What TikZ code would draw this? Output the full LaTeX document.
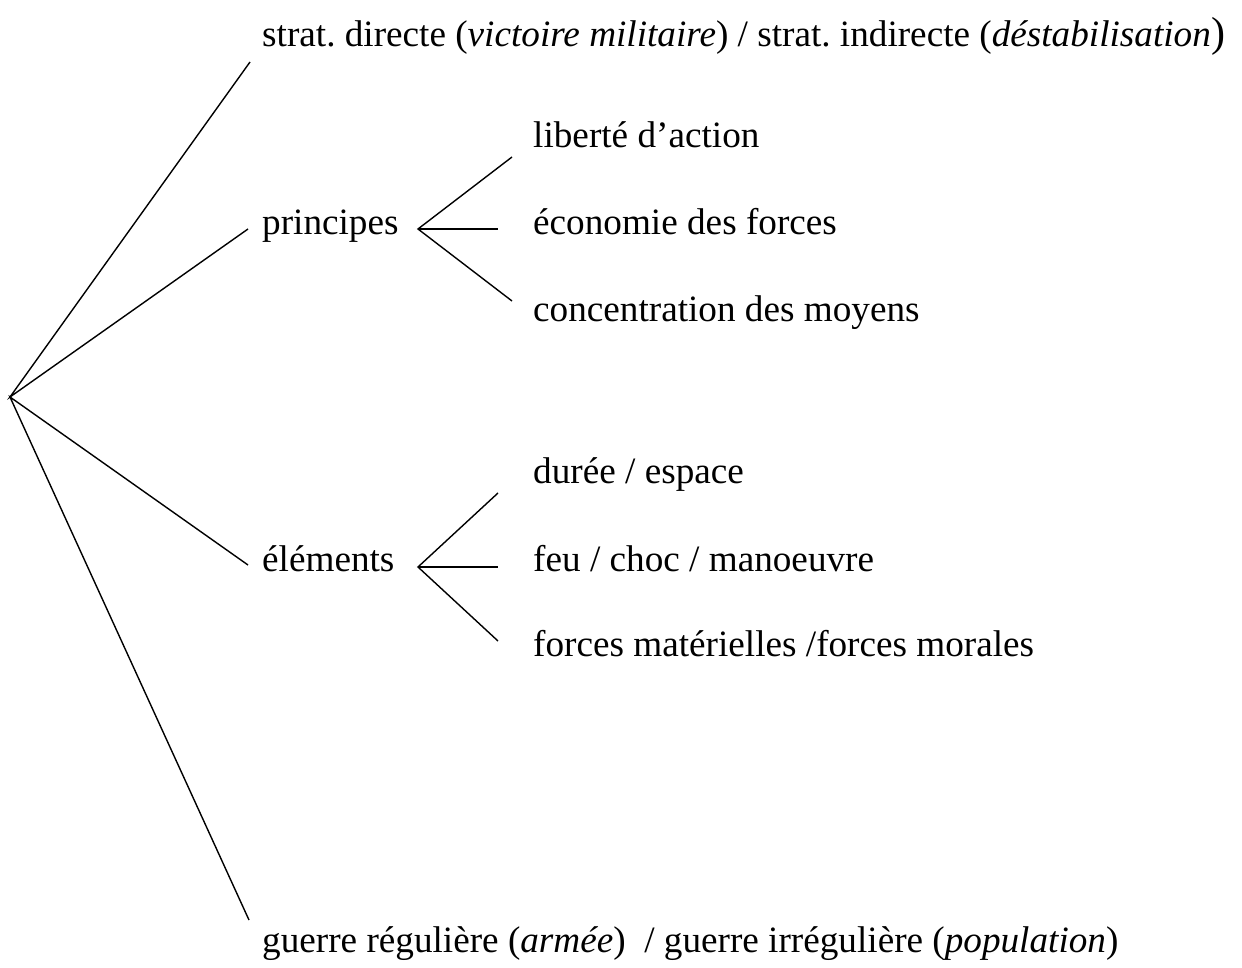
\documentclass[tikz,border=0pt]{standalone}
\usepackage{fontspec}
\setmainfont{Liberation Serif}
\frenchspacing
\begin{document}
\begin{tikzpicture}[x=1pt,y=-1pt,
  lbl/.style={anchor=base west,inner sep=0pt,font=\fontsize{37.2}{44}\selectfont},
  br/.style={line width=1.4pt,black}]
\useasboundingbox (0,0) rectangle (1242,968);
% root and branch ends
\coordinate (r) at (10,397);
\coordinate (e1) at (250,62);
\coordinate (e2) at (248,229);
\coordinate (e3) at (248,565);
\coordinate (e4) at (249,920);
\coordinate (fp) at (418,229);
\coordinate (fp1) at (512,157);
\coordinate (fp2) at (498,229);
\coordinate (fp3) at (512,301);
\coordinate (fe) at (418,567);
\coordinate (fe1) at (498,493);
\coordinate (fe2) at (498,567);
\coordinate (fe3) at (498,641);
% texts
\node[lbl] (t1) at (262,47) {strat. directe (\textit{victoire militaire}) / strat. indirecte (\textit{déstabilisation}\hspace{1pt}{\fontsize{42}{44}\selectfont )}};
\node[lbl] (t2) at (262,235) {principes};
\node[lbl] (t3) at (262,571) {éléments};
\node[lbl] (t4) at (262,952) {guerre régulière (\textit{armée})\ \ / guerre irrégulière (\textit{population})};
\node[lbl] (p1) at (533,148) {liberté d’action};
\node[lbl] (p2) at (533,235) {économie des forces};
\node[lbl] (p3) at (533,321) {concentration des moyens};
\node[lbl] (q1) at (533,483) {durée / espace};
\node[lbl] (q2) at (533,571) {feu / choc / manoeuvre};
\node[lbl] (q3) at (533,656) {forces matérielles /forces morales};
% connectors
\draw[br] (e1) -- (r) -- (e2);
\draw[br] (e3) -- (r) -- (e4);
\draw[br] (fp1) -- (fp) -- (fp3);
\draw[br] (fp) -- (fp2);
\draw[br] (fe1) -- (fe) -- (fe3);
\draw[br] (fe) -- (fe2);
\end{tikzpicture}
\end{document}
